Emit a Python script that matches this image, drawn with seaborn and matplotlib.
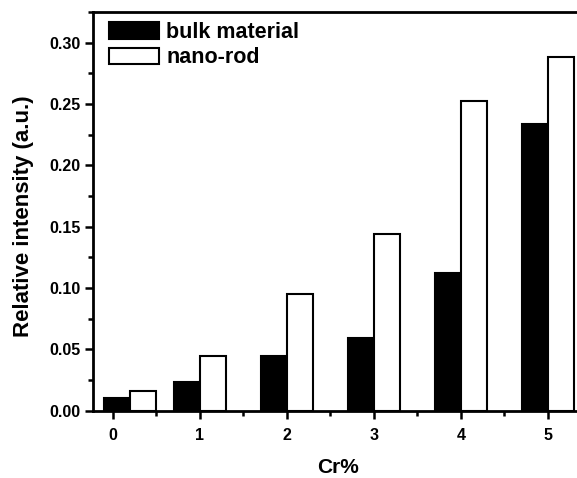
import matplotlib
matplotlib.use("Agg")
import matplotlib.pyplot as plt
from matplotlib.ticker import MultipleLocator
import numpy as np
import pandas as pd
import seaborn as sns

# Data
cr_positions = [0.2, 1, 2, 3, 4, 5]
bulk_values = [0.0104, 0.0232, 0.0444, 0.0593, 0.1118, 0.2333]
nano_values = [0.0159, 0.0442, 0.0950, 0.1436, 0.2523, 0.2884]
series_names = ["bulk material", "nano-rod"]
x_tick_values = [0, 1, 2, 3, 4, 5]
x_tick_labels = ["0", "1", "2", "3", "4", "5"]
y_tick_values = [0.00, 0.05, 0.10, 0.15, 0.20, 0.25, 0.30]
y_tick_labels = ["0.00", "0.05", "0.10", "0.15", "0.20", "0.25", "0.30"]

df = pd.DataFrame({
    "Cr": cr_positions * 2,
    "value": bulk_values + nano_values,
    "series": [series_names[0]] * len(cr_positions) + [series_names[1]] * len(cr_positions),
})

sns.set_style("ticks")
plt.rcParams["font.family"] = ["Liberation Sans", "DejaVu Sans"]
plt.rcParams["font.weight"] = "bold"
plt.rcParams["text.color"] = "black"
plt.rcParams["axes.labelcolor"] = "black"
plt.rcParams["xtick.color"] = "black"
plt.rcParams["ytick.color"] = "black"

fig = plt.figure(figsize=(5.77, 4.78), dpi=100)
ax = fig.add_axes([0.1612, 0.1412, 0.8388, 0.8337])

sns.barplot(data=df, x="Cr", y="value", hue="series", native_scale=True,
            palette=["black", "white"], edgecolor="black", linewidth=1.5,
            width=0.75, gap=0, errorbar=None, saturation=1, ax=ax)

ax.set_xlim(-0.226, 5.333)
ax.set_ylim(0, 0.325)
ax.set_xticks(x_tick_values)
ax.set_xticklabels(x_tick_labels)
ax.set_yticks(y_tick_values)
ax.set_yticklabels(y_tick_labels)
ax.xaxis.set_minor_locator(MultipleLocator(0.5))
ax.yaxis.set_minor_locator(MultipleLocator(0.025))

for s in ["left", "bottom", "top"]:
    ax.spines[s].set_linewidth(2.0)
    ax.spines[s].set_color("black")
ax.spines["right"].set_visible(False)

ax.tick_params(axis="both", which="major", direction="out", length=6, width=1.8,
               labelsize=11.5, colors="black")
ax.tick_params(axis="both", which="minor", direction="out", length=3.5, width=1.8,
               colors="black")
ax.tick_params(axis="x", which="both", top=False, pad=6.5)
ax.tick_params(axis="y", which="both", right=False, pad=3)
for lbl in ax.get_xticklabels() + ax.get_yticklabels():
    lbl.set_fontweight("bold")
    lbl.set_color("black")

ax.set_xlabel("Cr%", fontsize=15, fontweight="bold", color="black")
ax.set_ylabel("Relative intensity (a.u.)", fontsize=16, fontweight="bold", color="black")
ax.xaxis.set_label_coords(0.506, -0.12)
ax.yaxis.set_label_coords(-0.122, 0.488)

handles, labels = ax.get_legend_handles_labels()
leg = ax.legend(handles, labels, loc="upper left", bbox_to_anchor=(0.033, 0.975),
                frameon=False, borderpad=0, borderaxespad=0,
                handlelength=2.33, handleheight=0.79, handletextpad=0.33,
                labelspacing=0.2, prop={"size": 15.5, "weight": "bold"})
for h in leg.legend_handles:
    h.set_edgecolor("black")
    h.set_linewidth(1.5)
for t in leg.get_texts():
    t.set_color("black")

fig.savefig("out.png", dpi=100, facecolor="white")
